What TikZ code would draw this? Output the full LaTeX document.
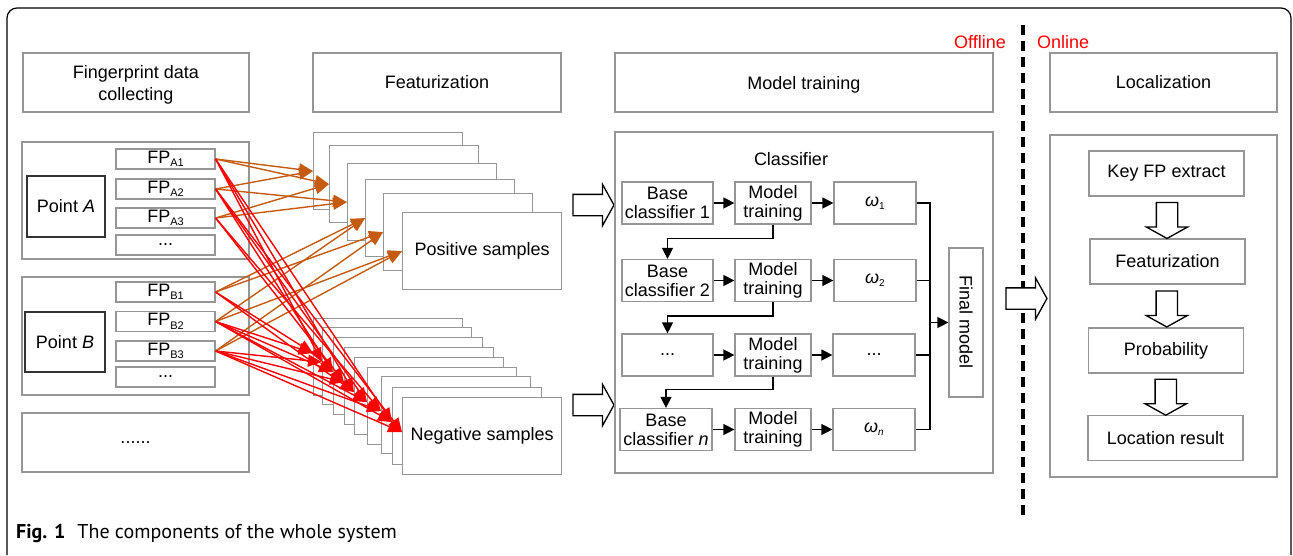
\documentclass[tikz,border=0pt]{standalone}
\usepackage{fontspec}
\setmainfont{Liberation Sans}
\newfontfamily\capfont{PT Sans}
\usetikzlibrary{arrows.meta,shapes.arrows,positioning,calc}
\definecolor{arrorange}{RGB}{197,90,17}
\definecolor{boxgray}{RGB}{150,150,150}
\newcommand{\fpsub}[1]{FP\raisebox{-3.5pt}{\fontsize{11}{11}\selectfont #1}}
\newcommand{\wsub}[1]{\textit{ω}\raisebox{-3pt}{\fontsize{10}{10}\selectfont #1}}

\begin{document}
\begin{tikzpicture}[x=1pt, y=-1pt,
    txt/.style={font=\fontsize{18}{22}\selectfont},
    gbox/.style 2 args={draw=boxgray, line width=1.2pt, fill=white, minimum width=#1, minimum height=#2, inner sep=0pt, align=center, txt},
    kbox/.style 2 args={draw=black!80, line width=1.3pt, fill=white, minimum width=#1, minimum height=#2, inner sep=0pt, txt},
    cbox/.style 2 args={gbox={#1}{#2}, font=\fontsize{18}{19}\selectfont},
    posarr/.style={-{Triangle[length=14pt,width=12pt]}, arrorange, line width=1.4pt},
    negarr/.style={-{Triangle[length=14pt,width=12pt]}, red, line width=1.4pt},
    flow/.style={-{Triangle[length=11pt,width=11pt]}, line width=1.3pt},
    bigarrow/.style={single arrow, draw, line width=1.3pt, fill=white, inner xsep=0pt, inner ysep=10pt, single arrow head extend=10pt, single arrow tip angle=122, minimum height=#1},
  ]
    \useasboundingbox (0,0) rectangle (1293,555);

    % Outer frame
    \draw[line width=1.2pt, rounded corners=10pt] (7,555) -- (7,8) -- (1291,8) -- (1291,555);

    % Column headers
    \node[gbox={226pt}{59pt}, text depth=-4pt] (hdcol) at (136,82.5) {Fingerprint data\\collecting};
    \node[gbox={248pt}{59pt}] (hdfeat) at (437,82.5) {Featurization};
    \node[gbox={378pt}{59pt}, text depth=-4pt] (hdmodel) at (804,82.5) {Model training};
    \node[gbox={227pt}{59pt}] (hdloc) at (1163.5,82.5) {Localization};

    % Offline / online split
    \coordinate (dtop) at (1023,25);
    \coordinate (dbot) at (1023,515);
    \draw[line width=3.5pt, dash pattern=on 10pt off 6pt] (dtop) -- (dbot);
    \node[txt, red, anchor=east, inner sep=0pt] (offl) at (1006,42) {Offline};
    \node[txt, red, anchor=west, inner sep=0pt] (onl) at (1037,42) {Online};

    % Fingerprint data collecting
    \node[gbox={227pt}{117pt}] (grpa) at (135.5,200.5) {};
    \node[kbox={78pt}{61pt}] (pta) at (66,206.5) {Point \textit{A}};
    \node[gbox={99pt}{20pt}] (fpa1) at (165.5,159) {\fpsub{A1}};
    \node[gbox={99pt}{20pt}] (fpa2) at (165.5,189) {\fpsub{A2}};
    \node[gbox={99pt}{20pt}] (fpa3) at (165.5,218) {\fpsub{A3}};
    \node[gbox={99pt}{20pt}] (fpa4) at (165.5,245) {...};

    \node[gbox={227pt}{118pt}] (grpb) at (135.5,336) {};
    \node[kbox={80pt}{60pt}] (ptb) at (65,342) {Point \textit{B}};
    \node[gbox={99pt}{20pt}] (fpb1) at (165.5,292) {\fpsub{B1}};
    \node[gbox={99pt}{20pt}] (fpb2) at (165.5,321.5) {\fpsub{B2}};
    \node[gbox={99pt}{20pt}] (fpb3) at (165.5,351) {\fpsub{B3}};
    \node[gbox={99pt}{20pt}] (fpb4) at (165.5,377) {...};

    \node[gbox={227pt}{59pt}] (grpc) at (135.5,442.5) {......};

    % Featurization stacks
    \foreach \i/\x/\y in {1/313/132, 2/329/145, 3/347/163, 4/365/179, 5/383/193}
        \node[gbox={149pt}{77pt}, anchor=north west] (p\i) at (\x,\y) {};
    \node[gbox={159pt}{77pt}, anchor=north west] (p6) at (402,212) {Positive samples};

    \foreach \i/\x/\y in {1/313/318, 2/322/327, 3/333/337, 4/344/347, 5/354/357, 6/367/367, 7/381/376, 8/392/387}
        \node[gbox={149pt}{77pt}, anchor=north west] (n\i) at (\x,\y) {};
    \node[gbox={159pt}{77pt}, anchor=north west] (n9) at (402,397) {Negative samples};

    % Fingerprints to samples
    \foreach \s/\t in {a1/p1, a1/p2, a2/p1, a2/p3, a3/p2, a3/p3, b1/p4, b1/p5, b2/p4, b2/p6, b3/p5, b3/p6}
        \draw[posarr] (fp\s.east) -- (\t.west);
    \foreach \s/\t in {a1/n2, a1/n5, a1/n8, a2/n3, a2/n6, a2/n9, a3/n4, a3/n7, b1/n1, b1/n5,
                       b2/n1, b2/n3, b2/n6, b2/n8, b3/n2, b3/n4, b3/n7, b3/n9}
        \draw[negarr] (fp\s.east) -- ([yshift=4pt]\t.west);

    % Samples into the classifier
    \node[bigarrow=41pt] (ba1) at (590.5,205) {};
    \node[bigarrow=41pt] (ba2) at (590.5,405) {};

    % Model training
    \node[gbox={378pt}{341pt}] (mpanel) at (804,302.5) {};
    \node[txt] (clsf) at (791,159) {Classifier};

    \node[cbox={91pt}{42pt}] (bc1) at (667.5,203) {Base\\classifier 1};
    \node[cbox={76pt}{42pt}] (mt1) at (773,203) {Model\\training};
    \node[cbox={82pt}{42pt}] (w1) at (875,203) {\wsub{1}};

    \node[cbox={91pt}{42pt}] (bc2) at (667.5,280.5) {Base\\classifier 2};
    \node[cbox={76pt}{42pt}] (mt2) at (773,280.5) {Model\\training};
    \node[cbox={82pt}{42pt}] (w2) at (875,280.5) {\wsub{2}};

    \node[cbox={91pt}{42pt}] (bc3) at (667.5,355) {...};
    \node[cbox={76pt}{42pt}] (mt3) at (773,355) {Model\\training};
    \node[cbox={82pt}{42pt}] (w3) at (874,355) {...};

    \node[cbox={92pt}{42pt}] (bcn) at (666,429.5) {Base\\classifier \textit{n}};
    \node[cbox={76pt}{42pt}] (mtn) at (773,429.5) {Model\\training};
    \node[cbox={82pt}{42pt}] (wn) at (874,429.5) {\wsub{\textit{n}}};

    \node[gbox={34pt}{149pt}] (fm) at (966,322.5) {};
    \node[txt, rotate=-90] (fmtxt) at (fm.center) {Final model};

    \draw[flow] (bc1) -- (mt1);
    \draw[flow] (mt1) -- (w1);
    \draw[flow] (bc2) -- (mt2);
    \draw[flow] (mt2) -- (w2);
    \draw[flow] (bc3) -- (mt3);
    \draw[flow] (mt3) -- (w3);
    \draw[flow] (bcn) -- (mtn);
    \draw[flow] (mtn) -- (wn);

    \draw[flow] (mt1.south) -- ++(0,14) -| (bc2.north);
    \draw[flow] (mt2.south) -- ++(0,14) -| (bc3.north);
    \draw[flow] (mt3.south) -- ++(0,13) -| (bcn.north);

    \coordinate (bus) at (930,0);
    \draw[line width=1.3pt] (w1.east) -- (w1.east -| bus) -- (wn.east -| bus) -- (wn.east);
    \draw[line width=1.3pt] (w2.east) -- (w2.east -| bus);
    \draw[line width=1.3pt] (w3.east) -- (w3.east -| bus);
    \draw[flow] (fm.west -| bus) -- (fm.west);

    % Localization
    \node[bigarrow=41pt] (ba3) at (1023.5,298.5) {};
    \node[gbox={227pt}{342pt}] (lpanel) at (1163.5,306) {};
    \node[gbox={155pt}{45pt}] (key) at (1166.5,173.5) {Key FP extract};
    \node[gbox={155pt}{45pt}] (feat) at (1167.5,261.5) {Featurization};
    \node[gbox={155pt}{45pt}] (prob) at (1166,350.5) {Probability};
    \node[gbox={155pt}{45pt}] (locr) at (1165.5,438) {Location result};

    \node[bigarrow=36pt, rotate=-90] (d1) at ($(key.south)!0.5!(feat.north)$) {};
    \node[bigarrow=36pt, rotate=-90] (d2) at ($(feat.south)!0.5!(prob.north)$) {};
    \node[bigarrow=36pt, rotate=-90] (d3) at ($(prob.south)!0.5!(locr.north)$) {};

    % Caption
    \node[anchor=west, inner sep=0pt, font=\capfont\fontsize{20}{22}\selectfont] (cap) at (16,533)
        {\textbf{Fig. 1}\hspace{12pt}The components of the whole system};
\end{tikzpicture}
\end{document}
